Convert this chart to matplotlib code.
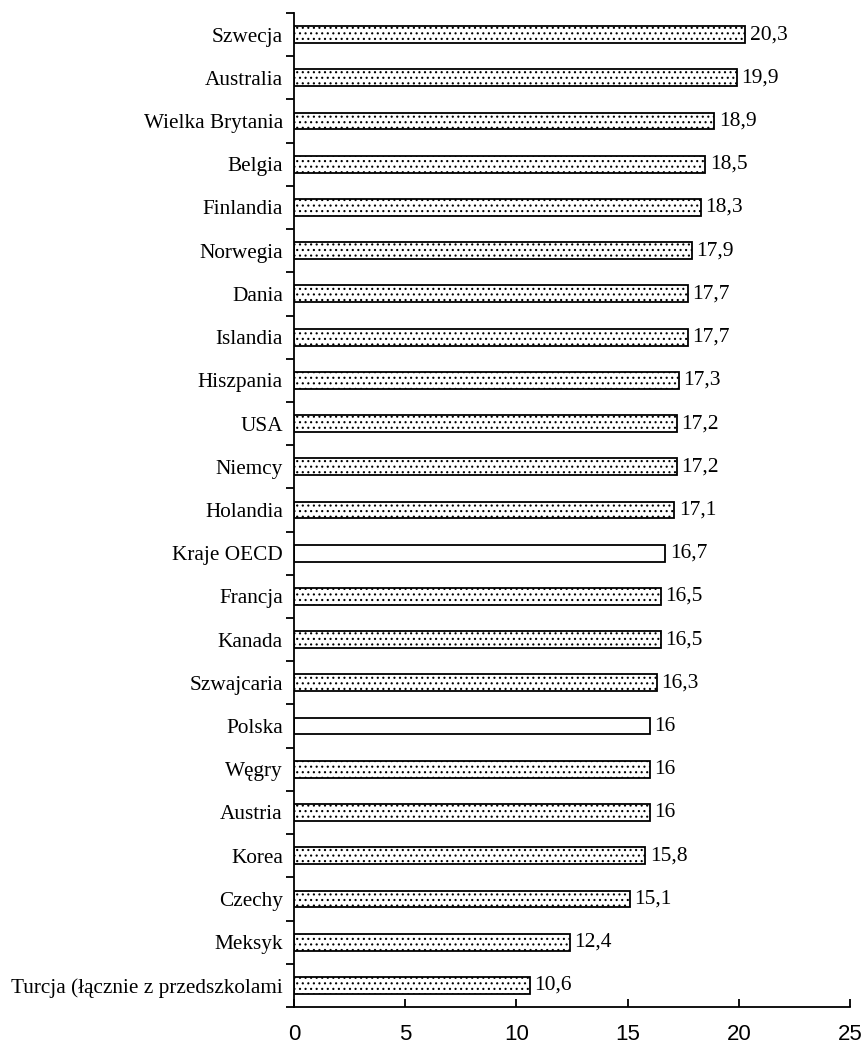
import matplotlib.pyplot as plt
import numpy as np

# data (top to bottom as in the chart)
countries = ['Szwecja', 'Australia', 'Wielka Brytania', 'Belgia', 'Finlandia',
             'Norwegia', 'Dania', 'Islandia', 'Hiszpania', 'USA', 'Niemcy',
             'Holandia', 'Kraje OECD', 'Francja', 'Kanada', 'Szwajcaria',
             'Polska', 'Węgry', 'Austria', 'Korea', 'Czechy', 'Meksyk',
             'Turcja (łącznie z przedszkolami']
values = [20.3, 19.9, 18.9, 18.5, 18.3, 17.9, 17.7, 17.7, 17.3, 17.2, 17.2,
          17.1, 16.7, 16.5, 16.5, 16.3, 16.0, 16.0, 16.0, 15.8, 15.1, 12.4, 10.6]
value_labels = ['20,3', '19,9', '18,9', '18,5', '18,3', '17,9', '17,7', '17,7',
                '17,3', '17,2', '17,2', '17,1', '16,7', '16,5', '16,5', '16,3',
                '16', '16', '16', '15,8', '15,1', '12,4', '10,6']
plain = ['Kraje OECD', 'Polska']  # bars drawn without the pattern

plt.rcParams['hatch.linewidth'] = 0.8
plt.rcParams['hatch.color'] = '#444444'

fig = plt.figure(figsize=(8.64, 10.51), dpi=100)
ax = fig.add_axes([0.3403, 0.0419, 0.9838 - 0.3403, 0.9876 - 0.0419])

n = len(countries)
y = np.arange(n)[::-1]
for yi, name, v in zip(y, countries, values):
    ax.barh(yi, v, height=0.39, color='white', edgecolor='black', linewidth=1.3,
            hatch=None if name in plain else '...')

serif = ['Liberation Serif', 'DejaVu Serif']
for yi, v, lab in zip(y, values, value_labels):
    ax.text(v + 0.2, yi, lab, va='center', ha='left', fontsize=15.5, family=serif)

ax.set_xlim(0, 25)
ax.set_ylim(-0.5, n - 0.5)
ax.set_xticks([0, 5, 10, 15, 20, 25])
ax.set_xticklabels(['0', '5', '10', '15', '20', '25'],
                   family=['Liberation Sans Narrow', 'Liberation Sans', 'DejaVu Sans'],
                   fontsize=16)
ax.tick_params(axis='x', direction='in', length=6, width=1.3, pad=12)

ax.set_yticks(y)
ax.set_yticklabels(countries, family=serif, fontsize=15.3)
ax.set_yticks(np.arange(-0.5, n, 1.0), minor=True)
ax.tick_params(axis='y', which='major', length=0, pad=8)
ax.tick_params(axis='y', which='minor', direction='out', length=6, width=1.3)

for side in ['top', 'right']:
    ax.spines[side].set_visible(False)
for side in ['left', 'bottom']:
    ax.spines[side].set_linewidth(1.3)

fig.savefig('out.png', dpi=100)
